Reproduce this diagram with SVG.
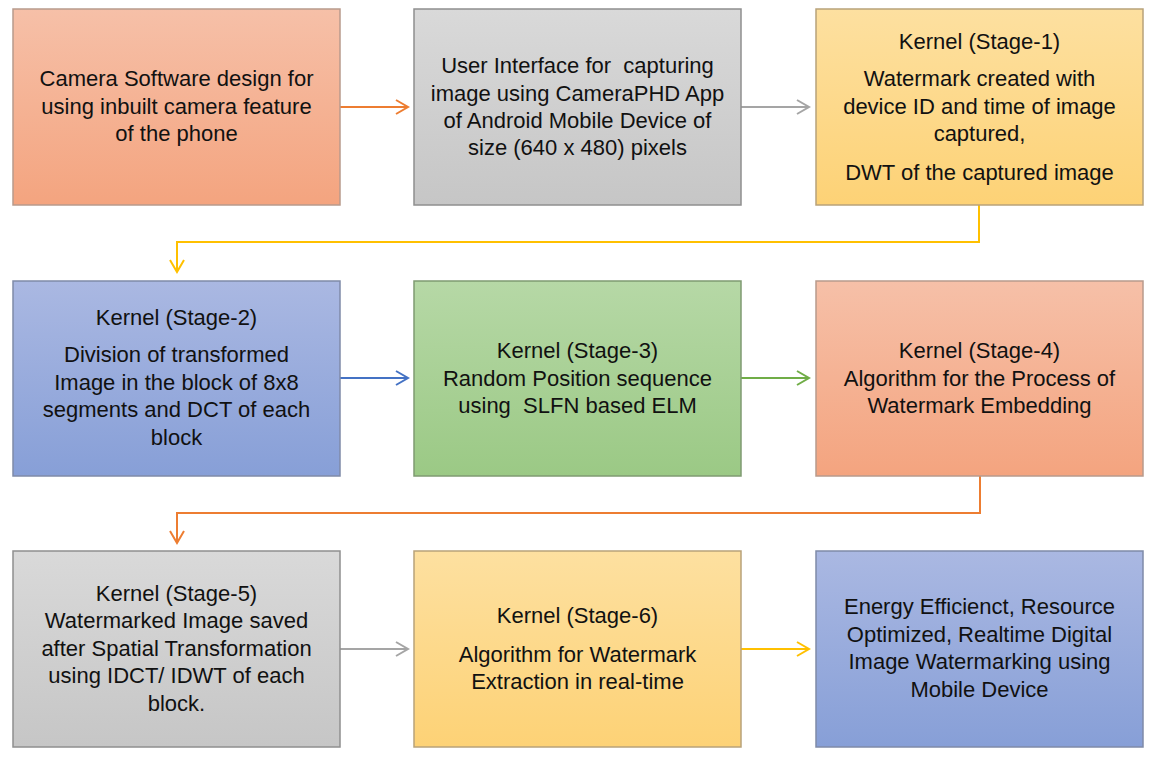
<svg xmlns="http://www.w3.org/2000/svg" width="1152" height="760" viewBox="0 0 1152 760">
  <defs>
    <linearGradient id="gOrange" x1="0" y1="0" x2="0" y2="1">
      <stop offset="0" stop-color="#f6c0a8"/>
      <stop offset="1" stop-color="#f4a47f"/>
    </linearGradient>
    <linearGradient id="gGray" x1="0" y1="0" x2="0" y2="1">
      <stop offset="0" stop-color="#d9d9d9"/>
      <stop offset="1" stop-color="#c6c6c6"/>
    </linearGradient>
    <linearGradient id="gYellow" x1="0" y1="0" x2="0" y2="1">
      <stop offset="0" stop-color="#fde0a0"/>
      <stop offset="1" stop-color="#fdd276"/>
    </linearGradient>
    <linearGradient id="gBlue" x1="0" y1="0" x2="0" y2="1">
      <stop offset="0" stop-color="#aab8e2"/>
      <stop offset="1" stop-color="#879fd7"/>
    </linearGradient>
    <linearGradient id="gGreen" x1="0" y1="0" x2="0" y2="1">
      <stop offset="0" stop-color="#b6d8a6"/>
      <stop offset="1" stop-color="#9bc985"/>
    </linearGradient>
    <marker id="aOrange" markerWidth="16" markerHeight="16" refX="14" refY="8" orient="auto" markerUnits="userSpaceOnUse">
      <path d="M2,1 L14,8 L2,15" fill="none" stroke="#ed7d31" stroke-width="2"/>
    </marker>
    <marker id="aGray" markerWidth="16" markerHeight="16" refX="14" refY="8" orient="auto" markerUnits="userSpaceOnUse">
      <path d="M2,1 L14,8 L2,15" fill="none" stroke="#a5a5a5" stroke-width="2"/>
    </marker>
    <marker id="aYellow" markerWidth="16" markerHeight="16" refX="14" refY="8" orient="auto" markerUnits="userSpaceOnUse">
      <path d="M2,1 L14,8 L2,15" fill="none" stroke="#ffc000" stroke-width="2"/>
    </marker>
    <marker id="aBlue" markerWidth="16" markerHeight="16" refX="14" refY="8" orient="auto" markerUnits="userSpaceOnUse">
      <path d="M2,1 L14,8 L2,15" fill="none" stroke="#4472c4" stroke-width="2"/>
    </marker>
    <marker id="aGreen" markerWidth="16" markerHeight="16" refX="14" refY="8" orient="auto" markerUnits="userSpaceOnUse">
      <path d="M2,1 L14,8 L2,15" fill="none" stroke="#70ad47" stroke-width="2"/>
    </marker>
  </defs>
  <style>
    .box { stroke-width: 1.5; }
    .o { fill: url(#gOrange); stroke: #b89a8c; }
    .g { fill: url(#gGray); stroke: #8f8f8f; }
    .y { fill: url(#gYellow); stroke: #b8a27a; }
    .b { fill: url(#gBlue); stroke: #7f8aa8; }
    .gr { fill: url(#gGreen); stroke: #7f9a72; }
    text { font-family: "Liberation Sans", Arial, sans-serif; font-size: 22px; fill: #111; text-anchor: middle; white-space: pre; }
    .c { fill: none; stroke-width: 2; }
  </style>

  <rect width="1152" height="760" fill="#ffffff"/>

  <!-- connectors -->
  <g id="connectors">
    <line class="c" x1="340" y1="107" x2="408" y2="107" stroke="#ed7d31" marker-end="url(#aOrange)"/>
    <line class="c" x1="741" y1="107" x2="809" y2="107" stroke="#a5a5a5" marker-end="url(#aGray)"/>
    <polyline class="c" points="979,205 979,242 177,242 177,272" stroke="#ffc000" marker-end="url(#aYellow)"/>
    <line class="c" x1="340" y1="378" x2="408" y2="378" stroke="#4472c4" marker-end="url(#aBlue)"/>
    <line class="c" x1="741" y1="378" x2="809" y2="378" stroke="#70ad47" marker-end="url(#aGreen)"/>
    <polyline class="c" points="980,476 980,513 177,513 177,543" stroke="#ed7d31" marker-end="url(#aOrange)"/>
    <line class="c" x1="340" y1="649" x2="408" y2="649" stroke="#a5a5a5" marker-end="url(#aGray)"/>
    <line class="c" x1="741" y1="649" x2="809" y2="649" stroke="#ffc000" marker-end="url(#aYellow)"/>
  </g>

  <!-- row 1 -->
  <g id="camera-software">
    <rect class="box o" x="13" y="9" width="327" height="196"/>
    <text x="176.5" y="86">Camera Software design for</text>
    <text x="176.5" y="114">using inbuilt camera feature</text>
    <text x="176.5" y="141">of the phone</text>
  </g>
  <g id="user-interface">
    <rect class="box g" x="414" y="9" width="327" height="196"/>
    <text x="577.5" y="73">User Interface for  capturing</text>
    <text x="577.5" y="101">image using CameraPHD App</text>
    <text x="577.5" y="128">of Android Mobile Device of</text>
    <text x="577.5" y="155">size (640 x 480) pixels</text>
  </g>
  <g id="stage-1">
    <rect class="box y" x="816" y="9" width="327" height="196"/>
    <text x="979.5" y="49">Kernel (Stage-1)</text>
    <text x="979.5" y="86">Watermark created with</text>
    <text x="979.5" y="114">device ID and time of image</text>
    <text x="979.5" y="141">captured,</text>
    <text x="979.5" y="180">DWT of the captured image</text>
  </g>

  <!-- row 2 -->
  <g id="stage-2">
    <rect class="box b" x="13" y="281" width="327" height="195"/>
    <text x="176.5" y="325">Kernel (Stage-2)</text>
    <text x="176.5" y="362">Division of transformed</text>
    <text x="176.5" y="390">Image in the block of 8x8</text>
    <text x="176.5" y="417">segments and DCT of each</text>
    <text x="176.5" y="445">block</text>
  </g>
  <g id="stage-3">
    <rect class="box gr" x="414" y="281" width="327" height="195"/>
    <text x="577.5" y="358">Kernel (Stage-3)</text>
    <text x="577.5" y="386">Random Position sequence</text>
    <text x="577.5" y="413">using  SLFN based ELM</text>
  </g>
  <g id="stage-4">
    <rect class="box o" x="816" y="281" width="327" height="195"/>
    <text x="979.5" y="358">Kernel (Stage-4)</text>
    <text x="979.5" y="386">Algorithm for the Process of</text>
    <text x="979.5" y="413">Watermark Embedding</text>
  </g>

  <!-- row 3 -->
  <g id="stage-5">
    <rect class="box g" x="13" y="551" width="327" height="196"/>
    <text x="176.5" y="601">Kernel (Stage-5)</text>
    <text x="176.5" y="628">Watermarked Image saved</text>
    <text x="176.5" y="656">after Spatial Transformation</text>
    <text x="176.5" y="683">using IDCT/ IDWT of each</text>
    <text x="176.5" y="711">block.</text>
  </g>
  <g id="stage-6">
    <rect class="box y" x="414" y="551" width="327" height="196"/>
    <text x="577.5" y="623">Kernel (Stage-6)</text>
    <text x="577.5" y="662">Algorithm for Watermark</text>
    <text x="577.5" y="689">Extraction in real-time</text>
  </g>
  <g id="result">
    <rect class="box b" x="816" y="551" width="327" height="196"/>
    <text x="979.5" y="614">Energy Efficienct, Resource</text>
    <text x="979.5" y="642">Optimized, Realtime Digital</text>
    <text x="979.5" y="669">Image Watermarking using</text>
    <text x="979.5" y="697">Mobile Device</text>
  </g>
</svg>
